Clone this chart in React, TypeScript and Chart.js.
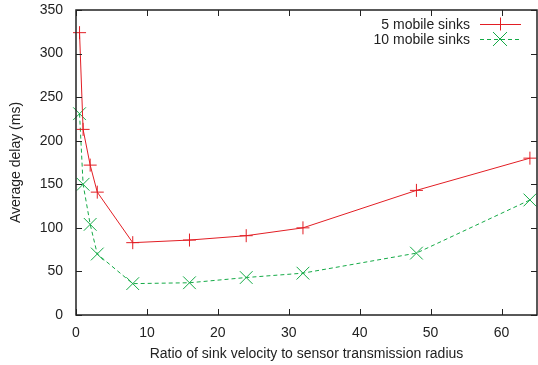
import React, { useEffect, useRef } from "react";
import { Chart, registerables } from "chart.js";

Chart.register(...registerables);

const xValues = [0.5, 1, 2, 3, 8, 16, 24, 32, 48, 64];
const sinks5 = [324, 213, 172, 141, 83, 86, 91, 100, 143, 180];
const sinks10 = [231, 150, 104, 70, 36, 37, 43, 48, 71, 132];
const xTicks = [0, 10, 20, 30, 40, 50, 60];
const yTicks = [0, 50, 100, 150, 200, 250, 300, 350];
const seriesLabels = ["5 mobile sinks", "10 mobile sinks"];
const xTitle = "Ratio of sink velocity to sensor transmission radius";
const yTitle = "Average delay (ms)";

const RED = "rgb(226,30,36)";
const GREEN = "rgb(20,170,70)";
const FONT = "'Liberation Sans', Arial, sans-serif";

const framePlugin = {
  id: "frame",
  afterDatasetsDraw(chart: any) {
    const { ctx, chartArea: a, scales } = chart;
    ctx.save();
    ctx.strokeStyle = "#222";
    ctx.lineWidth = 1.5;
    ctx.strokeRect(a.left, a.top, a.right - a.left, a.bottom - a.top);
    ctx.lineWidth = 1;
    const tl = 6;
    ctx.beginPath();
    for (const v of xTicks) {
      const px = Math.round(scales.x.getPixelForValue(v)) + 0.5;
      ctx.moveTo(px, a.bottom);
      ctx.lineTo(px, a.bottom - tl);
      ctx.moveTo(px, a.top);
      ctx.lineTo(px, a.top + tl);
    }
    for (const v of yTicks) {
      const py = Math.round(scales.y.getPixelForValue(v)) + 0.5;
      ctx.moveTo(a.left, py);
      ctx.lineTo(a.left + tl, py);
      ctx.moveTo(a.right, py);
      ctx.lineTo(a.right - tl, py);
    }
    ctx.stroke();

    // legend
    ctx.font = `14px ${FONT}`;
    ctx.fillStyle = "#222";
    ctx.textAlign = "right";
    ctx.textBaseline = "middle";
    const rows = [
      { label: seriesLabels[0], color: RED, dash: [] as number[], style: "plus" },
      { label: seriesLabels[1], color: GREEN, dash: [4, 3], style: "x" },
    ];
    rows.forEach((r, i) => {
      const y = 24 + i * 15;
      ctx.fillText(r.label, 470, y + 1);
      ctx.strokeStyle = r.color;
      ctx.setLineDash(r.dash);
      ctx.lineWidth = 1;
      ctx.beginPath();
      ctx.moveTo(480, y + 0.5);
      ctx.lineTo(521, y + 0.5);
      ctx.stroke();
      ctx.setLineDash([]);
      const cx = 500;
      const s = 6.5;
      ctx.beginPath();
      if (r.style === "plus") {
        ctx.moveTo(cx - s, y + 0.5);
        ctx.lineTo(cx + s, y + 0.5);
        ctx.moveTo(cx + 0.5, y - s);
        ctx.lineTo(cx + 0.5, y + s);
      } else {
        const d = 7;
        ctx.moveTo(cx - d, y - d);
        ctx.lineTo(cx + d, y + d);
        ctx.moveTo(cx + d, y - d);
        ctx.lineTo(cx - d, y + d);
      }
      ctx.stroke();
    });
    ctx.restore();
  },
};

export default function App() {
  const ref = useRef<HTMLCanvasElement>(null);
  useEffect(() => {
    document.body.style.margin = "0";
    const chart = new Chart(ref.current!, {
      type: "line",
      data: {
        datasets: [
          {
            label: seriesLabels[0],
            data: xValues.map((x, i) => ({ x, y: sinks5[i] })),
            borderColor: RED,
            backgroundColor: RED,
            borderWidth: 1,
            pointStyle: "cross",
            pointRadius: 6.5,
            pointBorderWidth: 1,
            pointBorderColor: RED,
            tension: 0,
            fill: false,
            clip: false,
          },
          {
            label: seriesLabels[1],
            data: xValues.map((x, i) => ({ x, y: sinks10[i] })),
            borderColor: GREEN,
            backgroundColor: GREEN,
            borderWidth: 1,
            borderDash: [4, 3],
            pointStyle: "crossRot",
            pointRadius: 9,
            pointBorderWidth: 1,
            pointBorderColor: GREEN,
            tension: 0,
            fill: false,
            clip: false,
          },
        ],
      },
      options: {
        animation: false,
        responsive: false,
        layout: { autoPadding: false, padding: { top: 10, right: 1, left: 0, bottom: 0 } },
        plugins: { legend: { display: false }, tooltip: { enabled: false } },
        scales: {
          x: {
            type: "linear",
            min: 0,
            max: 65,
            afterBuildTicks: (s: any) => {
              s.ticks = xTicks.map((v) => ({ value: v }));
            },
            afterFit: (s: any) => {
              s.height = 50;
              s.paddingRight = 0;
              s.paddingLeft = 0;
            },
            grid: { display: false },
            border: { display: false },
            ticks: {
              color: "#222",
              font: { family: FONT, size: 14 },
              padding: 2,
              maxRotation: 0,
            },
            title: {
              display: true,
              text: xTitle,
              color: "#222",
              font: { family: FONT, size: 14 },
              padding: { top: 2, bottom: 2 },
            },
          },
          y: {
            min: 0,
            max: 350,
            afterBuildTicks: (s: any) => {
              s.ticks = yTicks.map((v) => ({ value: v }));
            },
            afterFit: (s: any) => {
              s.width = 76;
              s.paddingTop = 0;
              s.paddingBottom = 0;
            },
            grid: { display: false },
            border: { display: false },
            ticks: {
              color: "#222",
              font: { family: FONT, size: 14 },
              padding: 5,
            },
            title: {
              display: true,
              text: yTitle,
              color: "#222",
              font: { family: FONT, size: 14 },
              padding: { top: 8, bottom: 4 },
            },
          },
        },
      },
      plugins: [framePlugin],
    } as any);
    return () => chart.destroy();
  }, []);
  return <canvas ref={ref} width={538} height={365} style={{ display: "block" }} />;
}
